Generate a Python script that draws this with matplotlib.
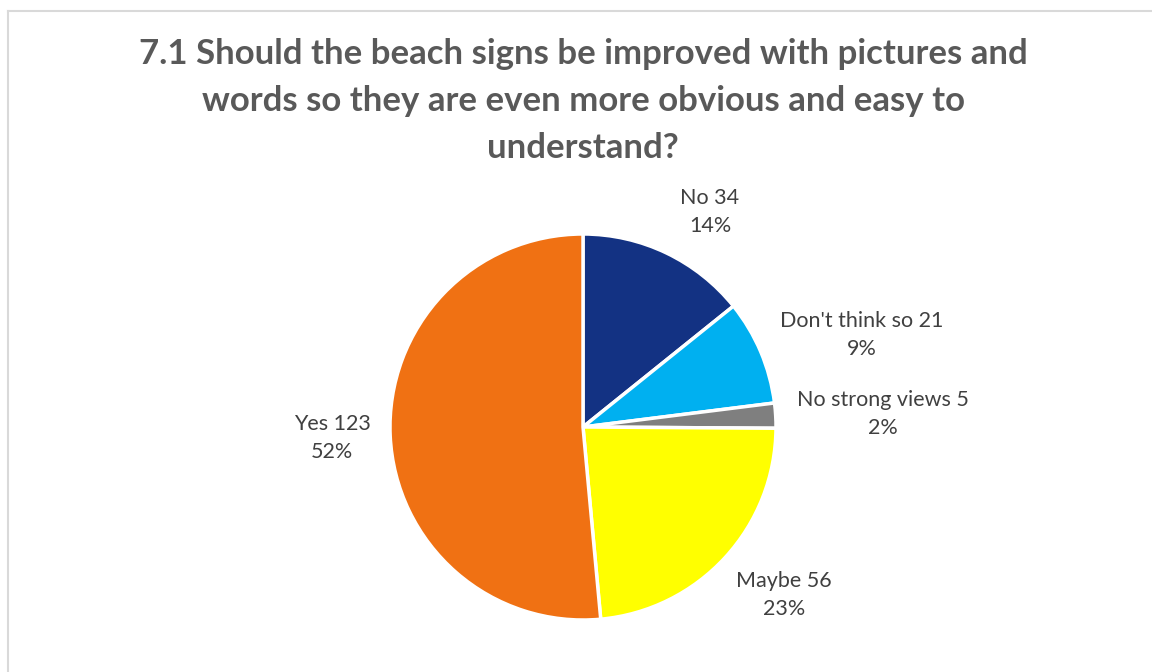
import matplotlib
matplotlib.use("Agg")
import matplotlib.pyplot as plt
from matplotlib.lines import Line2D

# Survey responses
categories = ["No", "Don't think so", "No strong views", "Maybe", "Yes"]
counts = [34, 21, 5, 56, 123]
percent_labels = ["14%", "9%", "2%", "23%", "52%"]
colors = ["#133283", "#00B0F0", "#7F7F7F", "#FFFF00", "#F07113"]

title = ("7.1 Should the beach signs be improved with pictures and\n"
         "words so they are even more obvious and easy to\n"
         "understand?")

# label anchor points, in units of the pie radius
label_pos = [(0.658, 1.114), (1.446, 0.477), (1.554, 0.067),
             (1.041, -0.870), (-1.300, -0.057)]

W, H = 1152, 672
fig = plt.figure(figsize=(W / 100, H / 100), dpi=100)
fig.patch.set_facecolor("white")

# chart-area border (left and top edges visible)
fig.add_artist(Line2D([7.5 / W, 7.5 / W], [0, 1 - 10.5 / H],
                      transform=fig.transFigure, color="#D9D9D9", lw=1.5))
fig.add_artist(Line2D([7.5 / W, 1], [1 - 10.5 / H, 1 - 10.5 / H],
                      transform=fig.transFigure, color="#D9D9D9", lw=1.5))

cx, cy, r = 583, 427, 193
ax = fig.add_axes([(cx - r) / W, (H - cy - r) / H, 2 * r / W, 2 * r / H])
ax.pie(counts, colors=colors, startangle=90, counterclock=False,
       radius=1.0, wedgeprops=dict(edgecolor="white", linewidth=2.5))
ax.set_xlim(-1, 1)
ax.set_ylim(-1, 1)
ax.set_aspect("equal")
ax.axis("off")

for cat, n, pct, (lx, ly) in zip(categories, counts, percent_labels, label_pos):
    ax.text(lx, ly, f"{cat} {n}\n{pct}", ha="center", va="center",
            fontsize=15.5, color="#404040", family="Lato",
            linespacing=1.5, clip_on=False)

fig.text(583 / W, 1 - 101 / H, title, ha="center", va="center",
         fontsize=25, fontweight="bold", color="#595959", family="Lato",
         linespacing=1.58)

fig.savefig("out.png", dpi=100)
